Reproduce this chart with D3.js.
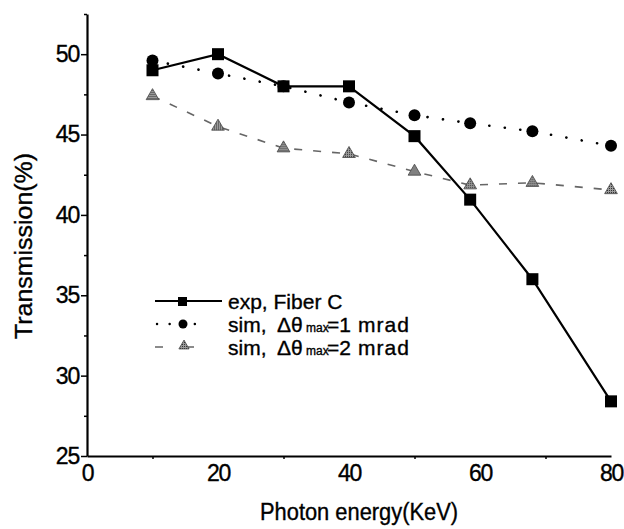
<!DOCTYPE html>
<html>
<head>
<meta charset="utf-8">
<script src="https://cdn.jsdelivr.net/npm/d3@7"></script>
<style>
  html, body { margin: 0; padding: 0; background: #fff; }
  svg { display: block; }
  text { font-family: "Liberation Sans", Arial, sans-serif; fill: #000; stroke: #000; stroke-width: 0.35; }
</style>
</head>
<body>
<svg id="chart" width="624" height="529"></svg>
<script>
// ---- data ----
const photonEnergy = [10, 20, 30, 40, 50, 58.5, 68, 80];
const expFiberC   = [49.0, 50.0, 48.0, 48.0, 44.9, 40.95, 36.0, 28.4];
const sim1mrad    = [49.6, 48.8, 48.0, 47.0, 46.2, 45.7, 45.2, 44.3];
const sim2mrad    = [47.4, 45.5, 44.15, 43.8, 42.7, 41.85, 42.0, 41.55];
const xTicks = [0, 20, 40, 60, 80];
const xMinorTicks = [10, 30, 50, 70];
const yTicks = [25, 30, 35, 40, 45, 50];
const yMinorTicks = [27.5, 32.5, 37.5, 42.5, 47.5, 52.5];
const legendLabels = ["exp, Fiber C", "1", "2"];

const svg = d3.select("#chart");
const x = d3.scaleLinear().domain([0, 80]).range([87, 611]);
const y = d3.scaleLinear().domain([25, 52.5]).range([456, 14]);

// pattern for triangles
const defs = svg.append("defs");
const pat = defs.append("pattern").attr("id", "hatch").attr("patternUnits", "userSpaceOnUse")
  .attr("width", 2).attr("height", 2);
pat.append("rect").attr("width", 2).attr("height", 2).attr("fill", "#9a9a9a");
pat.append("rect").attr("width", 1).attr("height", 1).attr("fill", "#333");

// ---- axes ----
const yAxis = svg.append("g").attr("transform", `translate(${x(0)},0)`)
  .call(d3.axisLeft(y).tickValues(yTicks).tickSize(6).tickSizeOuter(0).tickPadding(2));
yAxis.select(".domain").attr("stroke-width", 2.2);
yAxis.selectAll(".tick line").attr("stroke-width", 1.5);
yAxis.selectAll(".tick text").attr("font-size", 23).attr("letter-spacing", -1.2)
  .attr("font-family", "Liberation Sans, Arial, sans-serif");
svg.append("g").attr("transform", `translate(${x(0)},0)`)
  .call(d3.axisLeft(y).tickValues(yMinorTicks).tickSize(3).tickFormat(""))
  .call(g => g.select(".domain").remove())
  .selectAll(".tick line").attr("stroke-width", 1.5);

const xAxis = svg.append("g").attr("transform", `translate(0,${y(25)})`)
  .call(d3.axisBottom(x).tickValues(xTicks).tickSize(0).tickSizeOuter(0).tickPadding(9));
xAxis.select(".domain").attr("stroke-width", 2.2);
xAxis.selectAll(".tick text").attr("font-size", 23).attr("letter-spacing", -1.2)
  .attr("font-family", "Liberation Sans, Arial, sans-serif");
svg.append("g").attr("transform", `translate(0,${y(25)})`)
  .call(d3.axisBottom(x).tickValues(xMinorTicks).tickSize(3).tickFormat(""))
  .call(g => g.select(".domain").remove())
  .selectAll(".tick line").attr("stroke-width", 1.5);

// axis titles
svg.append("text").attr("transform", "translate(32,246) rotate(-90)")
  .attr("text-anchor", "middle").attr("font-size", 23)
  .attr("textLength", 186).attr("lengthAdjust", "spacingAndGlyphs")
  .text("Transmission(%)");
svg.append("text").attr("x", 359).attr("y", 520)
  .attr("text-anchor", "middle").attr("font-size", 23)
  .attr("textLength", 198).attr("lengthAdjust", "spacingAndGlyphs")
  .text("Photon energy(KeV)");

// ---- series ----
const line = d3.line().x(d => x(d[0])).y(d => y(d[1]));
const zip = vals => photonEnergy.map((e, i) => [e, vals[i]]);

// sim 2 mrad dashed gray
svg.append("path").datum(zip(sim2mrad)).attr("d", line)
  .attr("fill", "none").attr("stroke", "#666").attr("stroke-width", 1.6)
  .attr("stroke-dasharray", "8,11");
// sim 1 mrad dotted
svg.append("path").datum(zip(sim1mrad)).attr("d", line)
  .attr("fill", "none").attr("stroke", "#000").attr("stroke-width", 2.6)
  .attr("stroke-linecap", "round").attr("stroke-dasharray", "0.1,15.5");
// exp solid
svg.append("path").datum(zip(expFiberC)).attr("d", line)
  .attr("fill", "none").attr("stroke", "#000").attr("stroke-width", 2.2);

const tri = d3.symbol().type(d3.symbolTriangle).size(70);
svg.append("g").selectAll("path").data(zip(sim2mrad)).join("path")
  .attr("transform", d => `translate(${x(d[0])},${y(d[1])})`)
  .attr("d", tri).attr("fill", "url(#hatch)").attr("stroke", "#444").attr("stroke-width", 0.8);
svg.append("g").selectAll("circle").data(zip(sim1mrad)).join("circle")
  .attr("cx", d => x(d[0])).attr("cy", d => y(d[1])).attr("r", 6).attr("fill", "#000");
svg.append("g").selectAll("rect").data(zip(expFiberC)).join("rect")
  .attr("x", d => x(d[0]) - 6).attr("y", d => y(d[1]) - 6)
  .attr("width", 12).attr("height", 12).attr("fill", "#000");

// ---- legend ----
const lg = svg.append("g");
// row 1
lg.append("line").attr("x1", 155).attr("x2", 222).attr("y1", 301).attr("y2", 301)
  .attr("stroke", "#000").attr("stroke-width", 2.2);
lg.append("rect").attr("x", 178).attr("y", 297).attr("width", 9).attr("height", 9).attr("fill", "#000");
lg.append("text").attr("x", 228).attr("y", 309).attr("font-size", 21).text(legendLabels[0]);
// row 2
lg.append("line").attr("x1", 157).attr("x2", 206).attr("y1", 324).attr("y2", 324)
  .attr("stroke", "#000").attr("stroke-width", 2.4).attr("stroke-linecap", "round")
  .attr("stroke-dasharray", "0.1,12.5");
lg.append("circle").attr("cx", 183).attr("cy", 324).attr("r", 4.5).attr("fill", "#000");
// row 3
lg.append("line").attr("x1", 155).attr("x2", 199).attr("y1", 347).attr("y2", 347)
  .attr("stroke", "#666").attr("stroke-width", 1.6).attr("stroke-dasharray", "8,21,10");
lg.append("path").attr("transform", "translate(184,346)")
  .attr("d", d3.symbol().type(d3.symbolTriangle).size(45))
  .attr("fill", "url(#hatch)").attr("stroke", "#444").attr("stroke-width", 0.8);

[[332, legendLabels[1]], [355, legendLabels[2]]].forEach(([by, v]) => {
  const t = lg.append("text").attr("y", by).attr("font-size", 21);
  t.append("tspan").attr("x", 228).text("sim,");
  t.append("tspan").attr("x", 277).text("Δθ");
  t.append("tspan").attr("x", 306).attr("font-size", 12).text("max");
  t.append("tspan").attr("x", 327).text("=" + v);
  t.append("tspan").attr("x", 358).attr("letter-spacing", 1).text("mrad");
});
</script>
</body>
</html>
